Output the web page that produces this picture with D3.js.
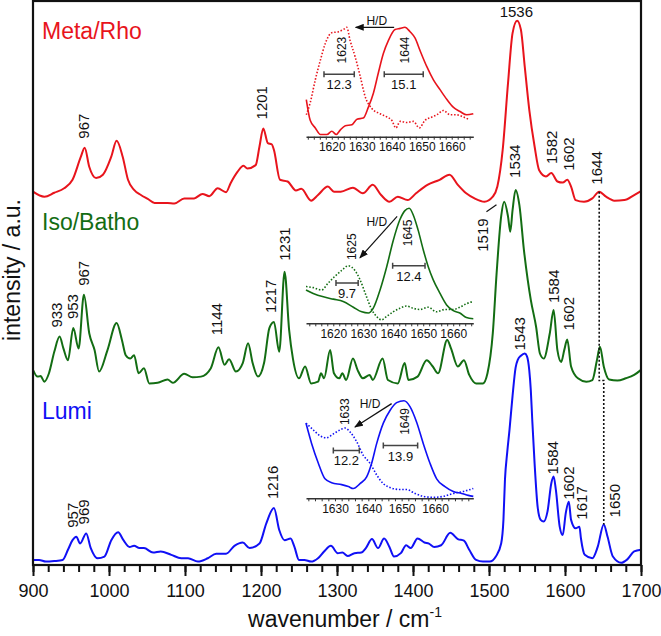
<!DOCTYPE html>
<html>
<head>
<meta charset="utf-8">
<script src="https://d3js.org/d3.v7.min.js"></script>
<style>
  body { margin: 0; background: #fff; }
  svg { display: block; }
  text { font-family: "Liberation Sans", Arial, sans-serif; }
</style>
</head>
<body>
<div id="chart"></div>
<script>

// ---------- data ----------
// main spectra: wavenumber (cm-1) and intensity (a.u., each above its own baseline)
var wnMeta = [900,915,928,941,952,963,968,974,983,992,1003,1010,1018,1025,1033,1042,1051,1060,1077,1086,1099,1112,1123,1132,1143,1154,1160,1169,1177,1182,1193,1198,1203,1209,1214,1217,1225,1235,1246,1253,1266,1275,1288,1296,1305,1321,1334,1347,1358,1369,1380,1393,1404,1419,1435,1448,1459,1470,1481,1494,1505,1511,1518,1525,1531,1537,1542,1547,1553,1560,1566,1575,1582,1590,1597,1603,1608,1614,1625,1636,1645,1654,1665,1678,1691,1700];
var intMeta = [0.32,0.23,0.30,0.38,0.53,0.94,1.10,0.76,0.56,0.62,0.94,1.22,0.94,0.53,0.35,0.26,0.19,0.12,0.12,0.11,0.20,0.20,0.28,0.24,0.38,0.31,0.47,0.67,0.78,0.73,0.79,1.12,1.44,1.18,1.16,1.06,0.53,0.50,0.34,0.37,0.16,0.26,0.41,0.32,0.32,0.39,0.29,0.44,0.26,0.14,0.23,0.17,0.29,0.44,0.53,0.62,0.44,0.29,0.20,0.14,0.23,0.41,1.06,2.24,3.13,3.35,3.19,2.54,1.77,1.12,0.70,0.59,0.65,0.50,0.48,0.53,0.41,0.17,0.14,0.20,0.32,0.23,0.16,0.17,0.26,0.33];

var wnIso = [900,906,910,915,921,928,935,940,946,953,960,967,974,981,987,998,1010,1017,1022,1028,1033,1039,1046,1053,1064,1077,1084,1099,1110,1121,1134,1144,1152,1158,1167,1176,1183,1189,1196,1204,1211,1217,1224,1231,1237,1242,1250,1258,1266,1275,1279,1283,1291,1296,1303,1307,1312,1321,1327,1334,1343,1347,1360,1367,1380,1389,1394,1406,1418,1426,1433,1445,1450,1459,1467,1474,1483,1492,1498,1505,1510,1516,1520,1525,1528,1531,1535,1540,1546,1551,1555,1562,1567,1572,1580,1585,1590,1595,1599,1603,1608,1617,1628,1636,1642,1646,1651,1658,1669,1680,1691,1700];
var intIso = [0.26,0.14,0.15,0.05,0.20,0.58,0.85,0.64,0.43,1.00,0.64,1.59,0.91,0.61,0.23,0.61,1.09,0.79,0.52,0.46,0.52,0.20,0.29,0.02,0.03,0.09,0.03,0.19,0.13,0.14,0.29,0.66,0.35,0.45,0.23,0.38,0.73,0.38,0.14,0.38,1.00,1.11,0.58,2.00,0.97,0.46,0.11,0.32,0.02,0.05,0.20,0.11,0.61,0.20,0.11,0.20,0.08,0.46,0.26,0.11,0.17,0.08,0.46,0.08,0.02,0.38,0.08,0.14,0.43,0.32,0.20,0.79,0.64,0.32,0.43,0.17,0.02,0.02,0.20,0.91,1.97,2.98,3.24,2.98,2.71,3.09,3.45,3.18,2.38,1.85,1.50,1.02,0.55,0.46,0.91,1.32,0.61,0.40,0.61,0.80,0.32,0.11,0.05,0.08,0.43,0.67,0.32,0.09,0.07,0.11,0.17,0.26];

var wnLumi = [900,908,917,928,939,946,952,957,962,970,976,985,994,1003,1012,1019,1027,1033,1040,1046,1058,1068,1082,1095,1104,1117,1130,1141,1154,1165,1176,1185,1198,1207,1217,1224,1231,1239,1244,1250,1257,1266,1275,1283,1292,1301,1307,1314,1323,1332,1338,1346,1354,1362,1369,1375,1384,1391,1397,1406,1415,1421,1428,1437,1449,1459,1467,1474,1483,1492,1501,1509,1516,1519,1521,1524,1527,1531,1535,1538,1542,1547,1550,1553,1555,1557,1560,1564,1568,1572,1577,1582,1585,1588,1593,1597,1601,1605,1608,1614,1619,1621,1626,1636,1643,1651,1656,1663,1674,1682,1691,1700];
var intLumi = [0.09,0.09,0.06,0.07,0.09,0.27,0.44,0.50,0.38,0.56,0.30,0.12,0.15,0.44,0.58,0.44,0.32,0.34,0.30,0.30,0.22,0.24,0.18,0.12,0.12,0.06,0.12,0.20,0.20,0.34,0.40,0.30,0.38,0.74,1.01,0.62,0.44,0.47,0.32,0.09,0.09,0.06,0.12,0.24,0.34,0.21,0.22,0.16,0.21,0.22,0.30,0.46,0.30,0.47,0.32,0.15,0.21,0.35,0.30,0.47,0.40,0.38,0.32,0.35,0.57,0.46,0.43,0.27,0.09,0.06,0.06,0.15,0.38,0.80,1.51,2.00,2.40,3.00,3.50,3.64,3.71,3.75,3.70,3.45,3.10,2.55,1.80,1.03,0.80,0.77,0.95,1.45,1.57,1.33,0.68,0.53,0.92,1.12,0.80,0.65,0.68,0.47,0.18,0.12,0.32,0.72,0.50,0.15,0.04,0.10,0.24,0.27];

var seriesNames = ["Meta/Rho", "Iso/Batho", "Lumi"];
var seriesOffsets = [6.3, 3.2, 0];

// labelled peaks
var peaksMeta = [967, 1201, 1536, 1582, 1602, 1644];
var peaksIso = [933, 953, 967, 1144, 1217, 1231, 1519, 1534, 1584, 1602];
var peaksLumi = [957, 969, 1216, 1543, 1584, 1602, 1617, 1650];

// main axis ticks
var xMajorTicks = [900, 1000, 1100, 1200, 1300, 1400, 1500, 1600, 1700];

// insets: C=C stretch region, H (solid) and D (dotted) samples, normalised intensity
var wnMetaH = [1611.5,1612.8,1614.5,1616.2,1618.4,1620,1621.5,1622.8,1624.5,1626.7,1628.4,1630.5,1632.2,1633.9,1635.5,1637.2,1638.9,1641.1,1642.8,1644.4,1646.1,1647.8,1649.4,1651.7,1653.9,1656.1,1658.4,1660.5,1662.8,1665,1667.2];
var intMetaH = [0.34,0.15,0.08,0.02,0.02,0.05,0.02,0.06,0.10,0.11,0.16,0.17,0.27,0.40,0.58,0.76,0.88,0.98,0.99,1.00,0.96,0.90,0.79,0.64,0.52,0.43,0.34,0.27,0.23,0.20,0.21];
var wnMetaD = [1611.5,1612.8,1614.5,1616.2,1617.8,1620,1622.3,1623.9,1625,1626.1,1627.8,1629.5,1631.1,1633.3,1636.1,1638.4,1640,1641.4,1642.8,1645,1647.2,1649.2,1651.1,1653.4,1655,1657.2,1659.5,1661.7,1663.9,1665.6];
var intMetaD = [0.20,0.31,0.52,0.70,0.85,0.95,0.96,0.98,1.00,0.88,0.73,0.55,0.37,0.26,0.21,0.18,0.15,0.08,0.14,0.13,0.14,0.08,0.15,0.18,0.20,0.24,0.20,0.20,0.18,0.16];

var wnIsoH = [1610.9,1613.3,1616.7,1620,1623.3,1626.7,1629.5,1631.7,1633.3,1635.6,1637.8,1640,1642.2,1643.9,1645.3,1646.7,1648.3,1650,1651.7,1653.3,1655.6,1657.8,1660,1662.2,1664.4,1666.7];
var intIsoH = [0.29,0.26,0.23,0.21,0.19,0.14,0.10,0.09,0.13,0.29,0.49,0.72,0.90,0.98,1.00,0.94,0.81,0.64,0.49,0.38,0.26,0.16,0.11,0.09,0.05,0.04];
var wnIsoD = [1610.9,1613.3,1616.1,1618.3,1620.6,1622.8,1625,1627.2,1628.9,1631.1,1632.8,1634.4,1636.1,1637.8,1640,1642.2,1644.4,1646.7,1648.9,1651.7,1654.4,1657.2,1660,1662.2,1664.4,1666.7];
var intIsoD = [0.32,0.31,0.29,0.35,0.41,0.46,0.50,0.46,0.38,0.23,0.12,0.06,0.03,0.06,0.10,0.13,0.15,0.13,0.12,0.14,0.10,0.12,0.12,0.14,0.17,0.19];

var wnLumiH = [1621.3,1623,1625,1627,1629,1632,1634,1635.5,1637.5,1639.5,1641,1642.5,1644.5,1646.5,1648.5,1650.7,1652.5,1654.5,1656.5,1658.5,1660.5,1663,1665.5,1668,1670,1671.5];
var intLumiH = [0.77,0.56,0.36,0.20,0.16,0.14,0.12,0.10,0.15,0.22,0.36,0.56,0.77,0.90,0.98,1.00,0.94,0.78,0.56,0.36,0.20,0.12,0.07,0.05,0.03,0.02];
var wnLumiD = [1621.3,1623.5,1625.5,1627.5,1629.5,1631.5,1633,1634.5,1636.5,1638.5,1640.5,1642.5,1644.5,1646.5,1649.5,1651.5,1654,1656.5,1659.5,1662.5,1665.5,1668.5,1671.5];
var intLumiD = [0.77,0.70,0.64,0.62,0.66,0.70,0.72,0.68,0.58,0.44,0.36,0.24,0.15,0.11,0.09,0.09,0.05,0.02,0.01,0.02,0.05,0.07,0.10];

// inset wavenumber ranges and their labelled ticks
var insetDomains = [[1611.4, 1667.2], [1610.9, 1666.7], [1621.3, 1671.5]];
var insetTickLabels = [[1620,1630,1640,1650,1660], [1620,1630,1640,1650,1660], [1630,1640,1650,1660]];

// band widths (FWHM, cm-1): [from, to, level, label]
var fwhmMeta = [[1617.4, 1627.5, 0.57, "12.3"], [1637.5, 1650.5, 0.57, "15.1"]];
var fwhmIso = [[1620.9, 1628.3, 0.35, "9.7"], [1639.8, 1650.6, 0.50, "12.4"]];
var fwhmLumi = [[1629.5, 1637.3, 0.49, "12.2"], [1644.5, 1654.8, 0.54, "13.9"]];

// inset peak labels: [wavenumber, level of label foot, text]
var insetPeaksMeta = [[1623.3, 0.67, "1623"], [1644.4, 0.67, "1644"]];
var insetPeaksIso = [[1626.1, 0.55, "1625"], [1644.9, 0.67, "1645"]];
var insetPeaksLumi = [[1633.0, 0.75, "1633"], [1651.0, 0.65, "1649"]];

// ---------- layout ----------
var width = 661, height = 636;
var colors = ["#e8141c", "#136d13", "#1010f5"];

var svg = d3.select("#chart").append("svg")
  .attr("width", width)
  .attr("height", height);

var x = d3.scaleLinear().domain([900, 1700]).range([33, 641]);
var y = d3.scaleLinear().domain([0, 10]).range([565, 1]);

var defs = svg.append("defs");
defs.append("marker")
  .attr("id", "arrow")
  .attr("markerUnits", "userSpaceOnUse")
  .attr("markerWidth", 9).attr("markerHeight", 7)
  .attr("refX", 8).attr("refY", 3.5)
  .attr("orient", "auto")
  .append("path")
  .attr("d", "M0,0 L9,3.5 L0,7 Z")
  .attr("fill", "#111");

var series = [
  { name: seriesNames[0], wn: wnMeta, v: intMeta, off: seriesOffsets[0], color: colors[0], peaks: peaksMeta },
  { name: seriesNames[1], wn: wnIso, v: intIso, off: seriesOffsets[1], color: colors[1], peaks: peaksIso },
  { name: seriesNames[2], wn: wnLumi, v: intLumi, off: seriesOffsets[2], color: colors[2], peaks: peaksLumi }
];
series.forEach(function (s) {
  s.points = s.wn.map(function (w, i) { return { wn: w, v: s.v[i] + s.off }; });
});

var line = d3.line()
  .x(function (d) { return x(d.wn); })
  .y(function (d) { return y(d.v); })
  .curve(d3.curveMonotoneX);

// spectra
svg.selectAll(".spectrum")
  .data(series)
  .enter()
  .append("path")
    .attr("class", "spectrum")
    .attr("d", function (d) { return line(d.points); })
    .attr("fill", "none")
    .attr("stroke", function (d) { return d.color; })
    .attr("stroke-width", 2);

// series names
var nameY = [39, 230, 419];
svg.selectAll(".sname")
  .data(series)
  .enter()
  .append("text")
    .attr("x", 42)
    .attr("y", function (d, i) { return nameY[i]; })
    .attr("fill", function (d) { return d.color; })
    .style("font-size", "23px")
    .text(function (d) { return d.name; });

// peak labels
function peakTop(s, p) {
  var best = -Infinity;
  s.points.forEach(function (d) {
    if (Math.abs(d.wn - p) <= 5 && d.v > best) best = d.v;
  });
  return y(best);
}
var tweak = {
  "Meta/Rho 1536": { horizontal: true, gap: 4 },
  "Meta/Rho 1602": { dx: 2 },
  "Meta/Rho 1644": { dx: -2, gap: 7 },
  "Iso/Batho 933": { dx: -1 },
  "Iso/Batho 953": { dx: -1 },
  "Iso/Batho 1144": { dx: -2, gap: 12 },
  "Iso/Batho 1217": { dx: -3 },
  "Iso/Batho 1231": { gap: 11 },
  "Iso/Batho 1519": { dx: -21, below: 50 },
  "Iso/Batho 1534": { gap: 12 },
  "Iso/Batho 1584": { dx: 1, gap: 7 },
  "Iso/Batho 1602": { dx: 2 },
  "Lumi 957": { dx: -4 },
  "Lumi 969": { dx: -2 },
  "Lumi 1543": { dx: -2, gap: 3 },
  "Lumi 1584": { gap: 2 },
  "Lumi 1602": { dx: 2, gap: 2 },
  "Lumi 1617": { dx: 4, gap: 7 },
  "Lumi 1650": { dx: 12, gap: 7 }
};
series.forEach(function (s) {
  s.peaks.forEach(function (p) {
    var t = tweak[s.name + " " + p] || {};
    var px = x(p) + (t.dx || 0);
    var top = peakTop(s, p);
    var foot = t.below ? top + t.below : top - (t.gap === undefined ? 9 : t.gap);
    if (t.horizontal) {
      svg.append("text")
        .attr("x", px).attr("y", foot)
        .attr("text-anchor", "middle")
        .attr("fill", "#111")
        .style("font-size", "15px")
        .text(p);
      return;
    }
    svg.append("text")
      .attr("transform", "translate(" + px + "," + foot + ") rotate(-90)")
      .attr("dy", "0.35em")
      .attr("fill", "#111")
      .style("font-size", "15px")
      .text(p);
    if (t.below) {
      // leader line from the label to the peak
      svg.append("line")
        .attr("x1", px + 4).attr("y1", top + 10)
        .attr("x2", px + 14).attr("y2", top + 3)
        .attr("stroke", "#111").attr("stroke-width", 1.2);
    }
  });
});

// dotted guide from 1644 (Meta, Iso) to 1650 (Lumi)
var m = series[0], iso = series[1], lu = series[2];
var guideBase = y(iso.off + 0.07);
svg.append("path")
  .attr("d", "M" + x(1645) + "," + peakTop(m, 1645) +
             "V" + guideBase + "H" + x(1651) + "V" + peakTop(lu, 1651))
  .attr("fill", "none")
  .attr("stroke", "#111")
  .attr("stroke-width", 1.6)
  .attr("stroke-dasharray", "2,2");

// ---------- insets ----------
var insets = [
  { axisY: 136.7, topY: 27.3, dom: insetDomains[0], labels: insetTickLabels[0], color: colors[0],
    wnH: wnMetaH, vH: intMetaH, wnD: wnMetaD, vD: intMetaD, bars: fwhmMeta, pk: insetPeaksMeta,
    hd: { text: [1635, 1.06], from: [1640.8, 1.0], to: [1628, 1.0] } },
  { axisY: 323.3, topY: 208.3, dom: insetDomains[1], labels: insetTickLabels[1], color: colors[1],
    wnH: wnIsoH, vH: intIsoH, wnD: wnIsoD, vD: intIsoD, bars: fwhmIso, pk: insetPeaksIso,
    hd: { text: [1634.5, 0.88], from: [1641.3, 0.93], to: [1628.9, 0.57] } },
  { axisY: 498.3, topY: 400.7, dom: insetDomains[2], labels: insetTickLabels[2], color: colors[2],
    wnH: wnLumiH, vH: intLumiH, wnD: wnLumiD, vD: intLumiD, bars: fwhmLumi, pk: insetPeaksLumi,
    hd: { text: [1640.5, 0.97], from: [1647.0, 0.97], to: [1636.0, 0.73] } }
];

insets.forEach(function (ins) {
  var g = svg.append("g");
  var ix = d3.scaleLinear().domain(ins.dom).range([306, 473.3]);
  var iy = d3.scaleLinear().domain([0, 1]).range([ins.axisY, ins.topY]);
  var il = d3.line()
    .x(function (d) { return ix(d[0]); })
    .y(function (d) { return iy(d[1]); })
    .curve(d3.curveMonotoneX);

  // axis
  var minor = d3.range(Math.ceil(ins.dom[0] / 2) * 2, ins.dom[1], 2);
  var ax = g.append("g")
    .attr("transform", "translate(0," + ins.axisY + ")")
    .call(d3.axisBottom(ix)
      .tickValues(minor)
      .tickSize(3)
      .tickSizeOuter(0)
      .tickPadding(3)
      .tickFormat(function (d) { return ins.labels.indexOf(d) >= 0 ? d : ""; }));
  ax.select(".domain").attr("stroke", "#333").attr("stroke-width", 1.4);
  ax.selectAll(".tick line").attr("stroke", "#333").attr("stroke-width", 1);
  ax.selectAll(".tick text")
    .attr("fill", "#111")
    .style("font-family", "Liberation Sans, Arial, sans-serif")
    .style("font-size", "12px");

  // H (solid) and D (dotted) bands
  g.append("path")
    .attr("d", il(ins.wnH.map(function (w, i) { return [w, ins.vH[i]]; })))
    .attr("fill", "none").attr("stroke", ins.color).attr("stroke-width", 1.6);
  g.append("path")
    .attr("d", il(ins.wnD.map(function (w, i) { return [w, ins.vD[i]]; })))
    .attr("fill", "none").attr("stroke", ins.color).attr("stroke-width", 1.6)
    .attr("stroke-dasharray", "1.5,1.8");

  // FWHM bars
  ins.bars.forEach(function (b) {
    var yb = iy(b[2]), x1 = ix(b[0]), x2 = ix(b[1]);
    g.append("path")
      .attr("d", "M" + x1 + "," + yb + "H" + x2 +
                 "M" + x1 + "," + (yb - 3) + "V" + (yb + 3) +
                 "M" + x2 + "," + (yb - 3) + "V" + (yb + 3))
      .attr("stroke", "#444").attr("stroke-width", 1.5).attr("fill", "none");
    g.append("text")
      .attr("x", (x1 + x2) / 2).attr("y", yb + 15)
      .attr("text-anchor", "middle")
      .attr("fill", "#111")
      .style("font-size", "13px")
      .text(b[3]);
  });

  // peak positions
  ins.pk.forEach(function (p) {
    g.append("text")
      .attr("transform", "translate(" + ix(p[0]) + "," + iy(p[1]) + ") rotate(-90)")
      .attr("dy", "0.35em")
      .attr("fill", "#111")
      .style("font-size", "12px")
      .text(p[2]);
  });

  // H/D exchange arrow
  g.append("text")
    .attr("x", ix(ins.hd.text[0])).attr("y", iy(ins.hd.text[1]))
    .attr("dy", "0.35em")
    .attr("text-anchor", "middle")
    .attr("fill", "#111")
    .style("font-size", "12px")
    .text("H/D");
  g.append("line")
    .attr("x1", ix(ins.hd.from[0])).attr("y1", iy(ins.hd.from[1]))
    .attr("x2", ix(ins.hd.to[0])).attr("y2", iy(ins.hd.to[1]))
    .attr("stroke", "#111").attr("stroke-width", 1.2)
    .attr("marker-end", "url(#arrow)");
});

// ---------- frame and axes ----------
var minorG = svg.append("g")
  .attr("transform", "translate(0,565)")
  .call(d3.axisBottom(x).tickValues(d3.range(900, 1701, 20)).tickSize(7).tickFormat(""));
minorG.select(".domain").remove();
minorG.selectAll(".tick line").attr("stroke", "#111").attr("stroke-width", 2);

var majorG = svg.append("g")
  .attr("transform", "translate(0,565)")
  .call(d3.axisBottom(x).tickValues(xMajorTicks).tickSize(11).tickPadding(8)
    .tickFormat(d3.format("d")));
majorG.select(".domain").remove();
majorG.selectAll(".tick line").attr("stroke", "#111").attr("stroke-width", 2);
majorG.selectAll(".tick text")
  .attr("fill", "#111")
  .style("font-family", "Liberation Sans, Arial, sans-serif")
  .style("font-size", "18px");

svg.append("rect")
  .attr("x", 33).attr("y", 1)
  .attr("width", 608).attr("height", 564)
  .attr("fill", "none")
  .attr("stroke", "#111")
  .attr("stroke-width", 2.2);

// axis titles
var xt = svg.append("text")
  .attr("x", 345).attr("y", 627)
  .attr("text-anchor", "middle")
  .attr("fill", "#111")
  .style("font-size", "23px")
  .text("wavenumber / cm");
xt.append("tspan")
  .attr("dy", -10)
  .style("font-size", "14px")
  .text("-1");

svg.append("text")
  .attr("transform", "translate(20,270) rotate(-90)")
  .attr("text-anchor", "middle")
  .attr("fill", "#111")
  .style("font-size", "23px")
  .text("intensity / a.u.");

</script>
</body>
</html>
